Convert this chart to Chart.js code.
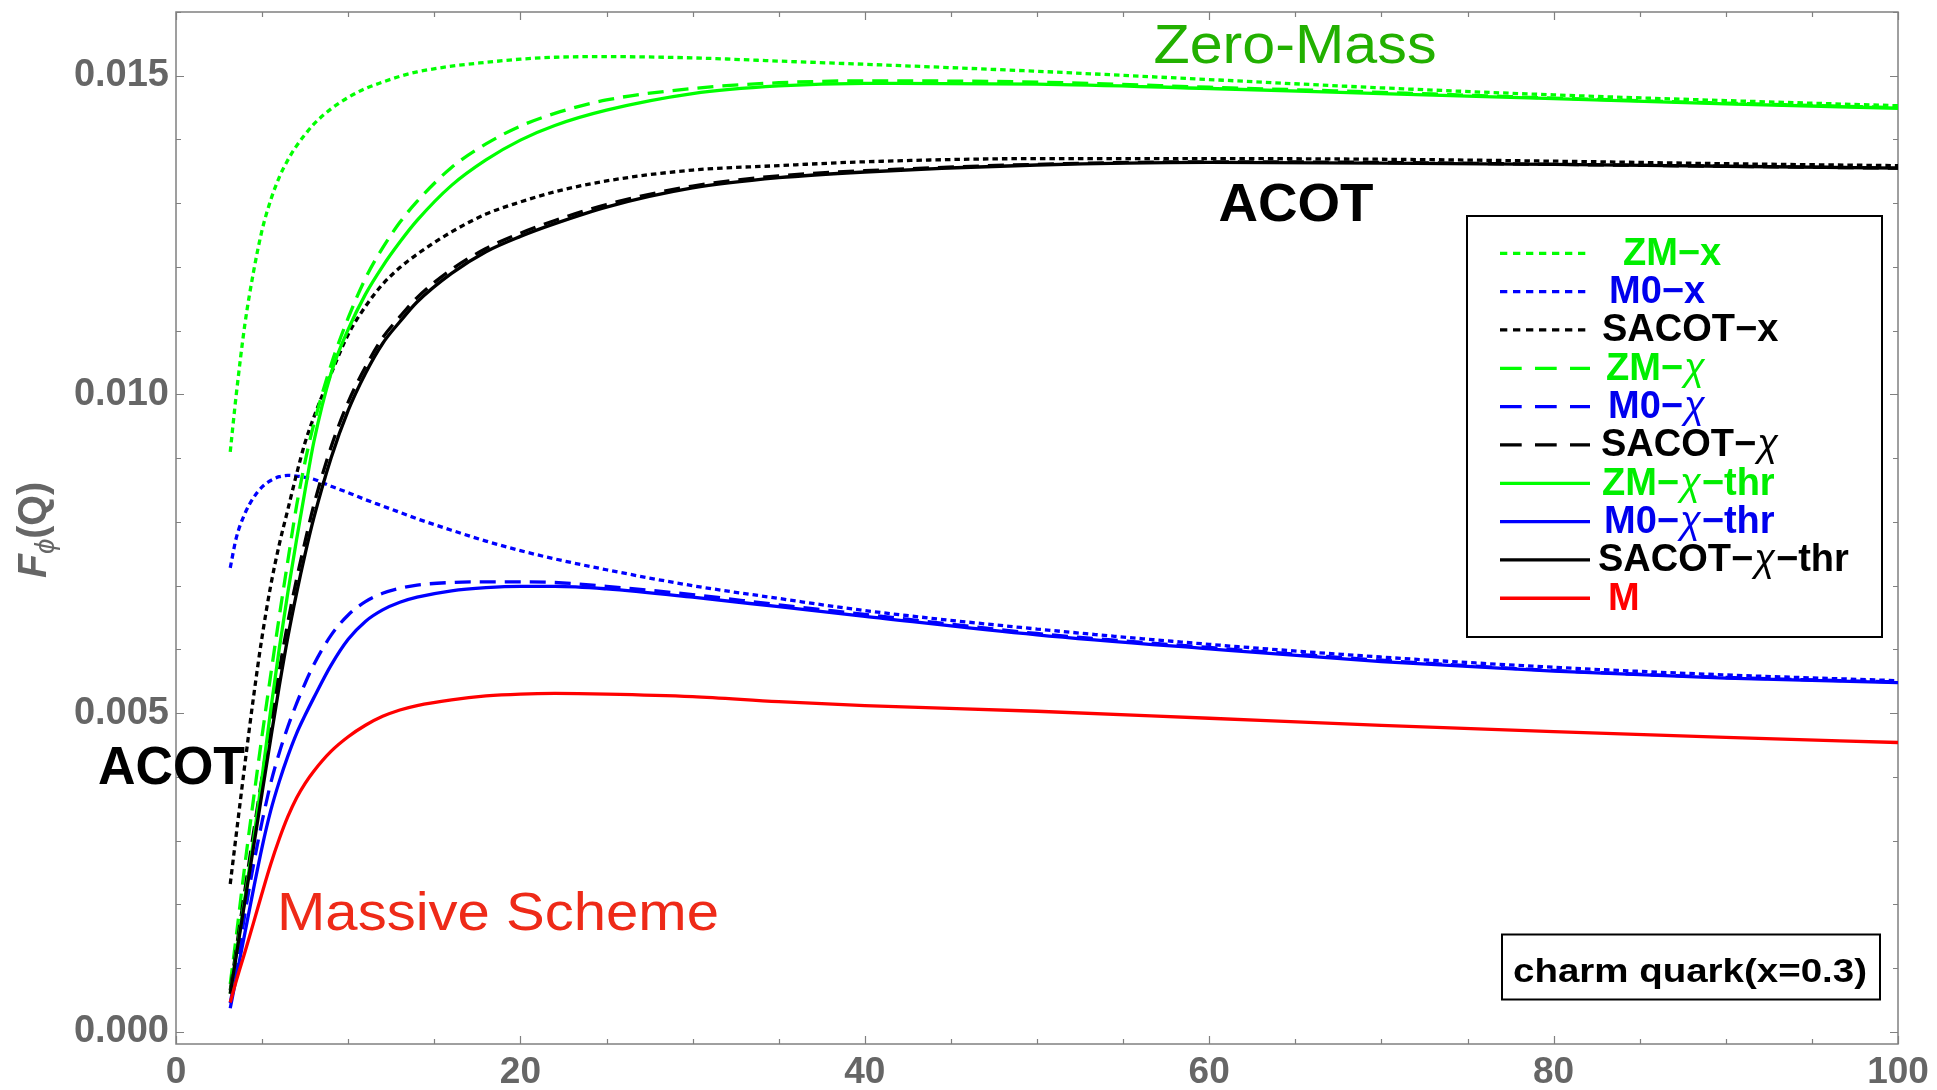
<!DOCTYPE html>
<html>
<head>
<meta charset="utf-8">
<script src="https://cdn.jsdelivr.net/npm/chart.js@4/dist/chart.umd.min.js"></script>
<style>
  html, body { margin: 0; padding: 0; background: #ffffff; }
  #wrap { width: 1937px; height: 1090px; position: relative; }
</style>
</head>
<body>
<div id="wrap"><canvas id="c" width="1937" height="1090"></canvas></div>
<script>
// Q values (GeV) at which the structure functions are sampled
const qValues = [3.15, 3.5, 4, 4.5, 5, 5.5, 6, 6.5, 7, 7.5, 8, 9, 10, 11, 12, 13, 14, 16, 18, 20, 22, 25, 30, 35, 40, 50, 60, 70, 80, 90, 100];

// F_phi(Q) for charm, x = 0.3
const zmX         = [0.00910, 0.01000, 0.01110, 0.01192, 0.01258, 0.01305, 0.01341, 0.01368, 0.01390, 0.01408, 0.01424, 0.01448, 0.01466, 0.01480, 0.01490, 0.01499, 0.01506, 0.01515, 0.01521, 0.01526, 0.01529, 0.01530, 0.01528, 0.01523, 0.01518, 0.01507, 0.01494, 0.01481, 0.01470, 0.01461, 0.01453];
const m0X         = [0.00728, 0.00775, 0.00813, 0.00838, 0.00855, 0.00865, 0.00871, 0.00873, 0.00872, 0.00870, 0.00867, 0.00856, 0.00846, 0.00835, 0.00825, 0.00815, 0.00805, 0.00787, 0.00770, 0.00755, 0.00742, 0.00725, 0.00700, 0.00680, 0.00661, 0.00632, 0.00608, 0.00588, 0.00572, 0.00560, 0.00551];
const sacotX      = [0.00232, 0.00310, 0.00420, 0.00525, 0.00620, 0.00700, 0.00765, 0.00820, 0.00875, 0.00925, 0.00964, 0.01032, 0.01094, 0.01138, 0.01173, 0.01199, 0.01220, 0.01255, 0.01283, 0.01302, 0.01318, 0.01335, 0.01352, 0.01359, 0.01365, 0.01370, 0.01370, 0.01369, 0.01366, 0.01362, 0.01359];
const zmChi       = [0.00075, 0.00150, 0.00262, 0.00365, 0.00465, 0.00560, 0.00652, 0.00740, 0.00825, 0.00895, 0.00953, 0.01046, 0.01120, 0.01182, 0.01230, 0.01270, 0.01303, 0.01356, 0.01393, 0.01421, 0.01441, 0.01462, 0.01480, 0.01489, 0.01492, 0.01490, 0.01482, 0.01474, 0.01465, 0.01457, 0.01450];
const m0Chi       = [0.00045, 0.00098, 0.00185, 0.00262, 0.00330, 0.00390, 0.00438, 0.00479, 0.00515, 0.00547, 0.00576, 0.00622, 0.00654, 0.00675, 0.00688, 0.00696, 0.00701, 0.00705, 0.00706, 0.00706, 0.00705, 0.00699, 0.00686, 0.00670, 0.00655, 0.00625, 0.00603, 0.00583, 0.00567, 0.00556, 0.00549];
const sacotChi    = [0.00065, 0.00130, 0.00222, 0.00312, 0.00400, 0.00485, 0.00567, 0.00643, 0.00710, 0.00770, 0.00826, 0.00917, 0.00988, 0.01043, 0.01089, 0.01122, 0.01152, 0.01196, 0.01229, 0.01253, 0.01273, 0.01298, 0.01327, 0.01343, 0.01351, 0.01361, 0.01365, 0.01364, 0.01361, 0.01358, 0.01355];
const zmChiThr    = [0.00060, 0.00122, 0.00210, 0.00300, 0.00400, 0.00505, 0.00602, 0.00690, 0.00772, 0.00850, 0.00925, 0.01033, 0.01102, 0.01157, 0.01201, 0.01239, 0.01273, 0.01328, 0.01368, 0.01399, 0.01422, 0.01446, 0.01472, 0.01484, 0.01488, 0.01487, 0.01480, 0.01472, 0.01464, 0.01456, 0.01449];
const m0ChiThr    = [0.00037, 0.00086, 0.00155, 0.00224, 0.00290, 0.00347, 0.00393, 0.00433, 0.00468, 0.00497, 0.00524, 0.00575, 0.00616, 0.00644, 0.00662, 0.00674, 0.00682, 0.00692, 0.00697, 0.00699, 0.00699, 0.00695, 0.00682, 0.00667, 0.00652, 0.00623, 0.00601, 0.00581, 0.00566, 0.00555, 0.00548];
const sacotChiThr = [0.00060, 0.00120, 0.00205, 0.00290, 0.00375, 0.00460, 0.00543, 0.00620, 0.00688, 0.00750, 0.00806, 0.00900, 0.00975, 0.01033, 0.01080, 0.01114, 0.01145, 0.01190, 0.01224, 0.01248, 0.01268, 0.01294, 0.01324, 0.01340, 0.01349, 0.01360, 0.01364, 0.01363, 0.01361, 0.01358, 0.01355];
const massive     = [0.00046, 0.00080, 0.00125, 0.00171, 0.00218, 0.00263, 0.00303, 0.00338, 0.00367, 0.00390, 0.00409, 0.00440, 0.00463, 0.00481, 0.00495, 0.00505, 0.00512, 0.00521, 0.00527, 0.00530, 0.00531, 0.00530, 0.00526, 0.00518, 0.00512, 0.00503, 0.00492, 0.00481, 0.00471, 0.00462, 0.00454];

const seriesLabels = ['ZM−x', 'M0−x', 'SACOT−x', 'ZM−χ', 'M0−χ', 'SACOT−χ', 'ZM−χ−thr', 'M0−χ−thr', 'SACOT−χ−thr', 'M'];
const seriesData = [zmX, m0X, sacotX, zmChi, m0Chi, sacotChi, zmChiThr, m0ChiThr, sacotChiThr, massive];

const xTickStep = 20, xMinorStep = 5;
const yTickStep = 0.005, yMinorStep = 0.001;

const GREEN = '#00ff00', BLUE = '#0000ff', BLACK = '#000000', RED = '#ff0000';
const DOT = [5.5, 4], DASH = [16, 9], SOLID = [];
const LEGEND_DOT = [7.3, 5.7], LEGEND_DASH = [21.7, 13.3];
const lineColors = [GREEN, BLUE, BLACK, GREEN, BLUE, BLACK, GREEN, BLUE, BLACK, RED];
const lineDashes = [DOT, DOT, DOT, DASH, DASH, DASH, SOLID, SOLID, SOLID, SOLID];
const labelColors = ['#00ee00', '#0000ee', '#000000', '#00ee00', '#0000ee', '#000000', '#00ee00', '#0000ee', '#000000', '#ff0000'];

const FONT = "'Liberation Sans', Arial, Helvetica, sans-serif";

const datasets = seriesData.map((arr, i) => ({
  label: seriesLabels[i],
  data: qValues.map((q, k) => ({ x: q, y: arr[k] })),
  borderColor: lineColors[i],
  borderDash: lineDashes[i],
  borderWidth: 3.3,
  pointRadius: 0,
  fill: false,
  cubicInterpolationMode: 'monotone',
  order: seriesData.length - i
}));

// draw text squeezed/stretched to a given width
function fitText(ctx, text, x, y, font, width, align) {
  ctx.save();
  ctx.font = font;
  const w = ctx.measureText(text).width;
  const s = width / w;
  let left = x;
  if (align === 'center') left = x - width / 2;
  ctx.translate(left, y);
  ctx.scale(s, 1);
  ctx.textAlign = 'left';
  ctx.fillText(text, 0, 0);
  ctx.restore();
}

const framePlugin = {
  id: 'frame',
  beforeDatasetsDraw(chart) {
    const { ctx, chartArea: a, scales: { x, y } } = chart;
    ctx.save();
    ctx.strokeStyle = '#808080';
    ctx.lineWidth = 1.5;
    ctx.strokeRect(a.left, a.top, a.right - a.left, a.bottom - a.top);
    ctx.lineWidth = 1.2;
    ctx.beginPath();
    for (let v = x.min; v <= x.max + 1e-9; v += xMinorStep) {
      const px = Math.round(x.getPixelForValue(v)) + 0.5;
      const major = Math.abs(v / xTickStep - Math.round(v / xTickStep)) < 1e-6;
      const L = major ? 8 : 5;
      ctx.moveTo(px, a.bottom); ctx.lineTo(px, a.bottom - L);
      ctx.moveTo(px, a.top); ctx.lineTo(px, a.top + L);
    }
    const per = Math.round(yTickStep / yMinorStep);
    for (let k = 0; k * yMinorStep <= y.max + 1e-12; k++) {
      const py = Math.round(y.getPixelForValue(k * yMinorStep)) + 0.5;
      const L = (k % per === 0) ? 8 : 5;
      ctx.moveTo(a.left, py); ctx.lineTo(a.left + L, py);
      ctx.moveTo(a.right, py); ctx.lineTo(a.right - L, py);
    }
    ctx.stroke();
    ctx.restore();
  },
  afterDraw(chart) {
    const { ctx } = chart;

    // y-axis title F_phi(Q), reading bottom to top
    ctx.save();
    ctx.translate(46, 530);
    ctx.rotate(-Math.PI / 2);
    ctx.fillStyle = '#666666';
    ctx.textAlign = 'left';
    ctx.textBaseline = 'alphabetic';
    const runs = [
      { t: 'F', f: 'italic bold 40px ' + FONT, dy: 0 },
      { t: 'ϕ', f: 'italic 28px ' + FONT, dy: 8 },
      { t: '(Q)', f: 'bold 40px ' + FONT, dy: 0 }
    ];
    let tw = 0;
    runs.forEach(r => { ctx.font = r.f; r.w = ctx.measureText(r.t).width; tw += r.w; });
    const titleW = 96;
    ctx.scale(titleW / tw, 1);
    let cx = -tw / 2;
    runs.forEach(r => { ctx.font = r.f; ctx.fillText(r.t, cx, r.dy); cx += r.w; });
    ctx.restore();

    // legend
    ctx.save();
    const box = { l: 1467, t: 216, r: 1882, b: 637 };
    ctx.fillStyle = '#ffffff';
    ctx.fillRect(box.l, box.t, box.r - box.l, box.b - box.t);
    ctx.strokeStyle = '#000000';
    ctx.lineWidth = 2;
    ctx.strokeRect(box.l, box.t, box.r - box.l, box.b - box.t);
    const rowY0 = 253.3, rowStep = 38.33;
    const labelX = [1623, 1609, 1602, 1606, 1608, 1601, 1602, 1604, 1598, 1608];
    ctx.textAlign = 'left';
    ctx.textBaseline = 'alphabetic';
    chart.data.datasets.forEach((ds, i) => {
      const ry = rowY0 + i * rowStep;
      ctx.strokeStyle = ds.borderColor;
      ctx.lineWidth = 3.3;
      const d = ds.borderDash;
      ctx.setLineDash(d === DOT ? LEGEND_DOT : d === DASH ? LEGEND_DASH : []);
      ctx.beginPath();
      ctx.moveTo(1500, ry);
      ctx.lineTo(1590, ry);
      ctx.stroke();
      ctx.setLineDash([]);
      const parts = ds.label.split('χ');
      let lx = labelX[i];
      ctx.fillStyle = labelColors[i];
      parts.forEach((p, j) => {
        ctx.font = 'bold 38px ' + FONT;
        ctx.fillText(p, lx, ry + 11.5);
        lx += ctx.measureText(p).width;
        if (j < parts.length - 1) {
          ctx.font = 'italic 38px ' + FONT;
          ctx.fillText('χ', lx + 1, ry + 11.5);
          lx += ctx.measureText('χ').width + 2;
        }
      });
    });
    ctx.restore();

    // plot annotations
    ctx.save();
    ctx.textBaseline = 'alphabetic';
    ctx.fillStyle = '#22b000';
    fitText(ctx, 'Zero-Mass', 1295, 63, '56px ' + FONT, 283, 'center');
    ctx.fillStyle = '#000000';
    fitText(ctx, 'ACOT', 1296, 221, 'bold 54px ' + FONT, 155, 'center');
    fitText(ctx, 'ACOT', 98, 784, 'bold 54px ' + FONT, 147, 'left');
    ctx.fillStyle = '#ee2a18';
    fitText(ctx, 'Massive Scheme', 277, 930, '54px ' + FONT, 442, 'left');

    // process label box
    ctx.fillStyle = '#ffffff';
    ctx.fillRect(1502, 934.5, 378, 65);
    ctx.strokeStyle = '#000000';
    ctx.lineWidth = 2;
    ctx.strokeRect(1502, 934.5, 378, 65);
    ctx.fillStyle = '#000000';
    fitText(ctx, 'charm quark(x=0.3)', 1690, 982, 'bold 33px ' + FONT, 354, 'center');
    ctx.restore();
  }
};

new Chart(document.getElementById('c'), {
  type: 'line',
  data: { datasets },
  options: {
    responsive: false,
    animation: false,
    devicePixelRatio: 1,
    layout: { padding: { left: 0, top: 12, right: 39, bottom: 0 } },
    plugins: { legend: { display: false }, tooltip: { enabled: false } },
    scales: {
      x: {
        type: 'linear',
        min: 0, max: 100,
        grid: { display: false, drawTicks: false },
        border: { display: false },
        ticks: {
          stepSize: xTickStep,
          autoSkip: false,
          maxRotation: 0,
          padding: 7,
          color: '#666666',
          font: { family: FONT, size: 37, weight: 'bold' },
          callback: v => String(v)
        },
        afterFit(s) { s.height = 46; s.paddingLeft = 0; s.paddingRight = 0; }
      },
      y: {
        type: 'linear',
        min: -0.00019, max: 0.016,
        grid: { display: false, drawTicks: false },
        border: { display: false },
        ticks: {
          stepSize: yTickStep,
          includeBounds: false,
          autoSkip: false,
          padding: 7,
          color: '#666666',
          font: { family: FONT, size: 38, weight: 'bold' },
          callback: v => Number(v).toFixed(3)
        },
        afterFit(s) { s.width = 176; s.paddingTop = 0; s.paddingBottom = 0; }
      }
    }
  },
  plugins: [framePlugin]
});
</script>
</body>
</html>
